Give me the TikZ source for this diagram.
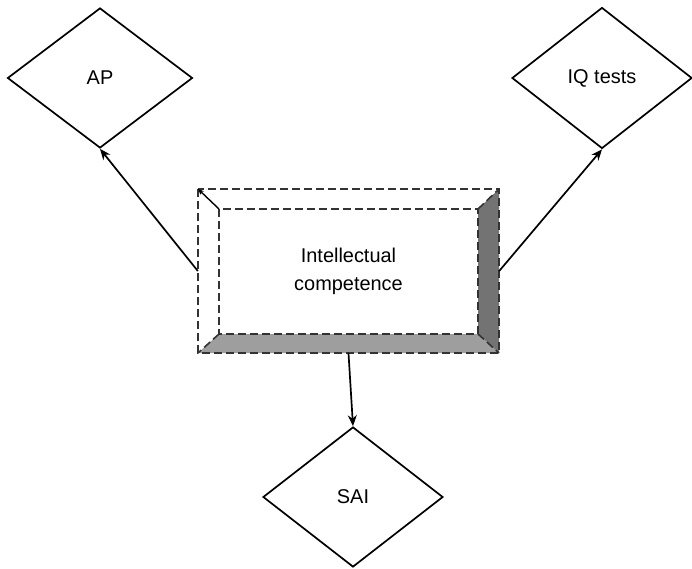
\documentclass[tikz,border=0pt]{standalone}
\usepackage{fontspec}
\setmainfont{Liberation Sans}
\usetikzlibrary{shapes.geometric,arrows.meta}
\begin{document}
\begin{tikzpicture}[x=1bp,y=-1bp,
  dia/.style={draw,line width=1.7bp,shape=diamond,inner sep=0pt,font=\fontsize{20}{28}\selectfont},
  conn/.style={line width=1.7bp,-{Stealth[length=11bp,width=9bp]}},
  dsh/.style={line width=1.6bp,dash pattern=on 8bp off 4bp,draw=black!80}]
\useasboundingbox (0,0) rectangle (692,569);
% diamonds
\node[dia,minimum width=185bp,minimum height=140bp] (ap) at (100,78) {AP};
\node[dia,minimum width=180bp,minimum height=141bp] (iq) at (602,78) {IQ tests};
\node[dia,minimum width=180bp,minimum height=140bp] (sai) at (353,497) {SAI};
% bevelled box
\coordinate (o1) at (198,189); \coordinate (o2) at (499,189);
\coordinate (o3) at (499,353); \coordinate (o4) at (198,353);
\coordinate (i1) at (219,209); \coordinate (i2) at (478,209);
\coordinate (i3) at (478,334); \coordinate (i4) at (219,334);
\fill[black!55] (o2) -- (o3) -- (i3) -- (i2) -- cycle;
\fill[black!38] (o4) -- (o3) -- (i3) -- (i4) -- cycle;
\draw[dsh] (o1) rectangle (o3);
\draw[dsh] (i1) rectangle (i3);
\draw[dsh] (i2) -- (o2);
\draw[dsh] (i3) -- (o3);
\draw[dsh] (i4) -- (o4);
\draw[line width=1.4bp,-{Stealth[length=6bp,width=5bp]}] (i1) -- (o1);
\node[minimum width=301bp,minimum height=164bp,inner sep=0pt,align=center,
  font=\fontsize{20}{28}\selectfont] (ic) at (348.5,271) {Intellectual\\competence};
% connectors
\draw[conn] (ic.west) -- (ap.south);
\draw[conn] (ic.east) -- (iq.south);
\draw[conn] (ic.south) -- (sai.north);
\end{tikzpicture}
\end{document}
